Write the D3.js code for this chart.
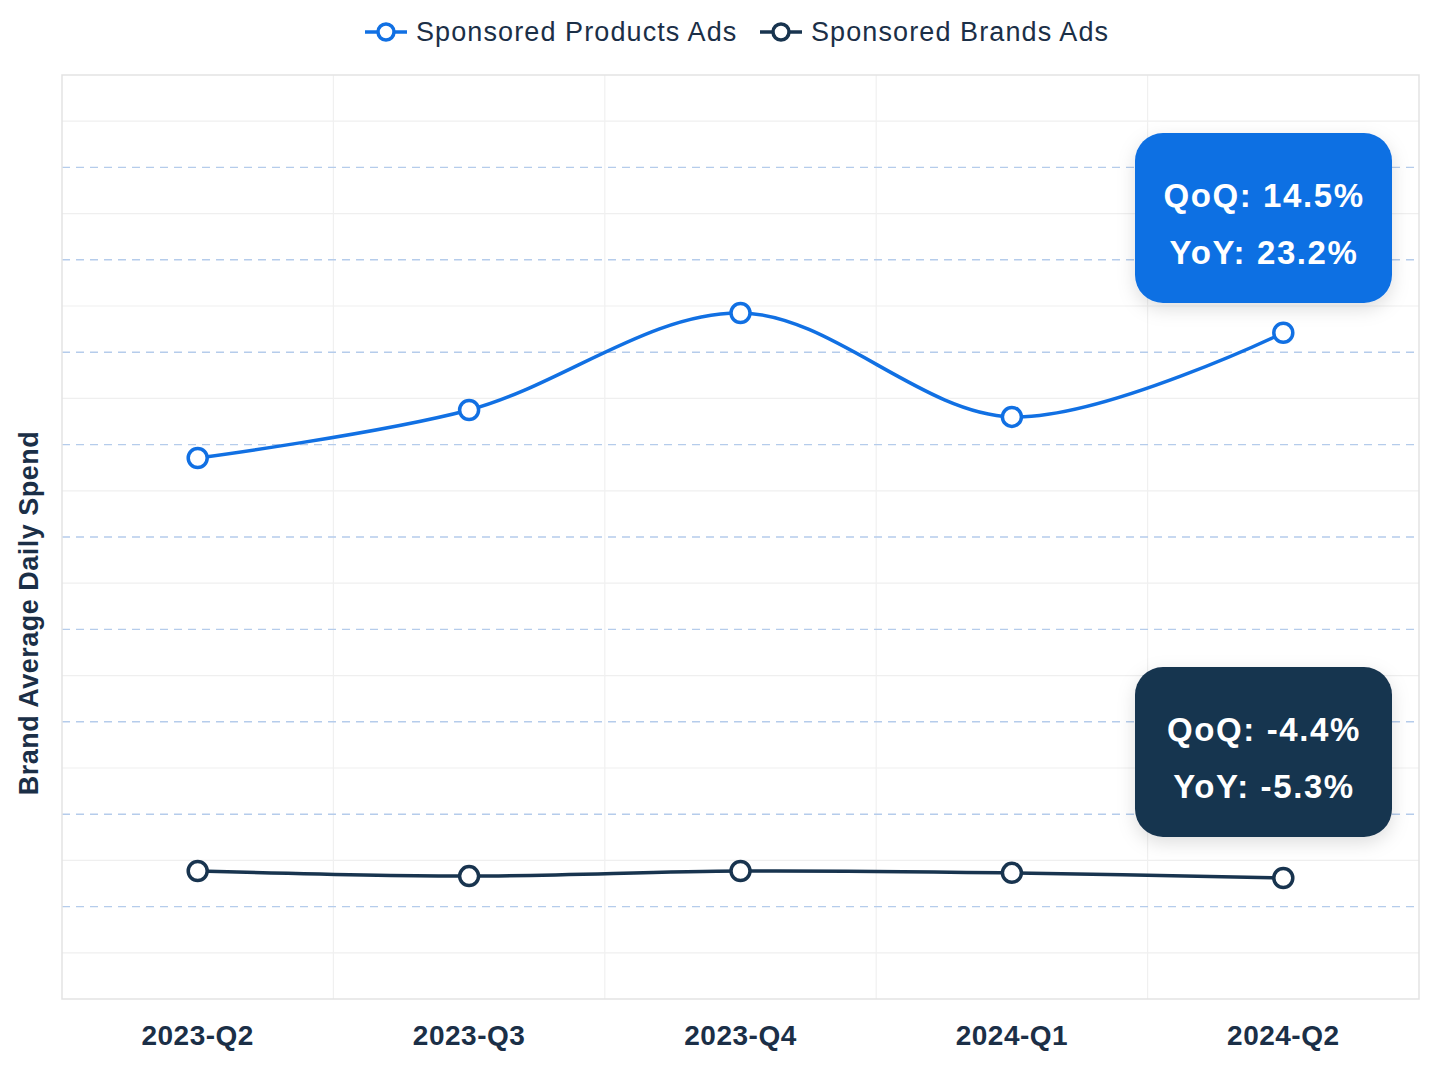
<!DOCTYPE html>
<html><head><meta charset="utf-8">
<script src="https://cdn.jsdelivr.net/npm/d3@7"></script>
<style>
html,body{margin:0;padding:0;background:#fff;}
svg{display:block;font-family:"Liberation Sans",Arial,Helvetica,sans-serif;}
</style></head>
<body><svg id="chart" width="1440" height="1066"></svg>
<script>
const categories = ["2023-Q2","2023-Q3","2023-Q4","2024-Q1","2024-Q2"];
const productsAds = [11.71, 12.75, 14.85, 12.6, 14.42];
const brandsAds = [2.77, 2.66, 2.77, 2.73, 2.62];
const seriesNames = ["Sponsored Products Ads","Sponsored Brands Ads"];
const productsNote = ["QoQ: 14.5%","YoY: 23.2%"];
const brandsNote = ["QoQ: -4.4%","YoY: -5.3%"];
const yTitle = "Brand Average Daily Spend";

const blue = "#1170E3", navy = "#18344F", textC = "#1B2F47";
const svg = d3.select("#chart");
const L = 62, R = 1419, T = 75, B = 999;

const defs = svg.append("defs");
const f = defs.append("filter").attr("id","shadow").attr("x","-30%").attr("y","-30%").attr("width","160%").attr("height","170%");
f.append("feDropShadow").attr("dx",0).attr("dy",6).attr("stdDeviation",9).attr("flood-color","#000").attr("flood-opacity",0.13);

const x = d3.scaleBand().domain(categories).range([L,R]);
const y = d3.scaleLinear().domain([0,20]).range([B,T]);

// grid
const g = svg.append("g");
const ticks = d3.range(1,20);
g.selectAll("line.h").data(ticks.filter(t=>t%2===1)).join("line")
  .attr("x1",L).attr("x2",R).attr("y1",d=>y(d)).attr("y2",d=>y(d))
  .attr("stroke","#efefef").attr("stroke-width",1.2);
g.selectAll("line.v").data(categories.slice(1)).join("line")
  .attr("x1",d=>x(d)).attr("x2",d=>x(d)).attr("y1",T).attr("y2",B)
  .attr("stroke","#f0f0f0").attr("stroke-width",1.2);
g.selectAll("line.d").data(ticks.filter(t=>t%2===0)).join("line")
  .attr("x1",L).attr("x2",R).attr("y1",d=>y(d)).attr("y2",d=>y(d))
  .attr("stroke","#B5CCEB").attr("stroke-width",1.4).attr("stroke-dasharray","8,6");
g.append("rect").attr("x",L).attr("y",T).attr("width",R-L).attr("height",B-T)
  .attr("fill","none").attr("stroke","#e3e3e3").attr("stroke-width",1.5);

// x axis labels
const xAxis = d3.axisBottom(x).tickSize(0).tickPadding(0);
const xa = svg.append("g").attr("transform",`translate(0,${B})`).call(xAxis);
xa.select(".domain").remove();
xa.selectAll("text").attr("y",46).attr("dy",0).attr("font-size",28).attr("font-weight","bold")
  .attr("letter-spacing",0.5).attr("fill",textC).attr("font-family","'Liberation Sans',Arial,sans-serif");

// y title
svg.append("text").attr("transform","translate(38,613) rotate(-90)")
  .attr("text-anchor","middle").attr("font-size",27).attr("letter-spacing",0.5)
  .attr("font-weight","bold").attr("fill",textC).text(yTitle);

// lines
const line = d3.line().x((d,i)=>x(categories[i])+x.bandwidth()/2).y(d=>y(d)).curve(d3.curveCatmullRom.alpha(0.5));
[[productsAds,blue],[brandsAds,navy]].forEach(([data,c])=>{
  svg.append("path").attr("d",line(data)).attr("fill","none").attr("stroke",c).attr("stroke-width",3.5);
  svg.append("g").selectAll("circle").data(data).join("circle")
    .attr("cx",(d,i)=>x(categories[i])+x.bandwidth()/2).attr("cy",d=>y(d)).attr("r",9.5)
    .attr("fill","#fff").attr("stroke",c).attr("stroke-width",3.5);
});

// annotation boxes
function note(lines, c, yTop){
  const gx = svg.append("g");
  gx.append("rect").attr("x",1135).attr("y",yTop).attr("width",257).attr("height",170).attr("rx",28)
    .attr("fill",c).attr("filter","url(#shadow)");
  lines.forEach((t,i)=>{
    gx.append("text").attr("x",1264).attr("y",yTop+74+i*57).attr("text-anchor","middle")
      .attr("font-size",33).attr("letter-spacing",1.6).attr("font-weight","bold").attr("fill","#fff").text(t);
  });
}
note(productsNote, blue, 133);
note(brandsNote, navy, 667);

// legend
const leg = svg.append("g");
const legItems = [{n:seriesNames[0],c:blue,x:365},{n:seriesNames[1],c:navy,x:760}];
legItems.forEach(it=>{
  leg.append("line").attr("x1",it.x).attr("x2",it.x+42).attr("y1",32).attr("y2",32).attr("stroke",it.c).attr("stroke-width",3.5);
  leg.append("circle").attr("cx",it.x+21).attr("cy",32).attr("r",8).attr("fill","#fff").attr("stroke",it.c).attr("stroke-width",3.5);
  leg.append("text").attr("x",it.x+51).attr("y",41).attr("font-size",27).attr("letter-spacing",1.1)
    .attr("fill",textC).text(it.n);
});
</script></body></html>
